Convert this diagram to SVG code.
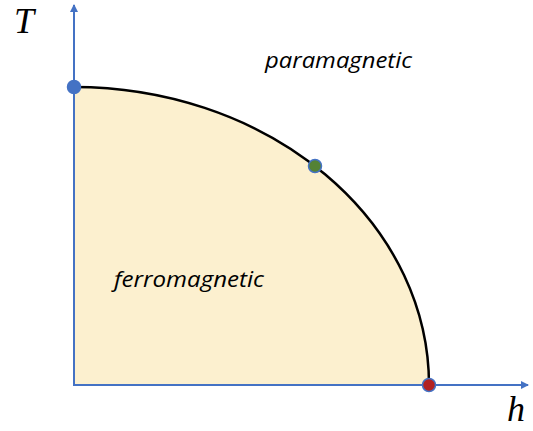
<svg xmlns="http://www.w3.org/2000/svg" width="533" height="431" viewBox="0 0 533 431">
<style>
.axis{stroke:#4472C4;stroke-width:2;fill:none}
.lbl{font-family:"Open Sans","Liberation Sans",sans-serif;font-style:italic;font-size:21px;fill:#000}
.var{font-family:"Liberation Serif",serif;font-style:italic;font-size:36px;fill:#000}
.dot{stroke:#4472C4;stroke-width:1.5}
</style>
<defs>
<marker id="arr" markerWidth="8" markerHeight="8" refX="7" refY="4" orient="auto" markerUnits="userSpaceOnUse">
<path d="M0,0 L8,4 L0,8 Z" fill="#4472C4"/>
</marker>
</defs>
<g id="region">
<path d="M74,385 L74,87 A355,298 0 0 1 429,385 Z" fill="#FCF0CF"/>
</g>
<g id="connectors">
<line class="axis" x1="74" y1="386" x2="74" y2="5" marker-end="url(#arr)"/>
<line class="axis" x1="73" y1="385" x2="528" y2="385" marker-end="url(#arr)"/>
<path d="M74,87 A355,298 0 0 1 429,385" fill="none" stroke="#000" stroke-width="2.5"/>
</g>
<g id="labels">
<text class="var" x="14" y="33">T</text>
<text class="var" x="507" y="421">h</text>
<text class="lbl" x="265" y="68" textLength="147" lengthAdjust="spacingAndGlyphs">paramagnetic</text>
<text class="lbl" x="114" y="287" textLength="150" lengthAdjust="spacingAndGlyphs">ferromagnetic</text>
</g>
<g id="points">
<circle class="dot" cx="74" cy="87" r="6.5" fill="#4472C4"/>
<circle class="dot" cx="315" cy="166" r="6.5" fill="#548235"/>
<circle class="dot" cx="429" cy="385" r="6.5" fill="#B22222"/>
</g>
</svg>
